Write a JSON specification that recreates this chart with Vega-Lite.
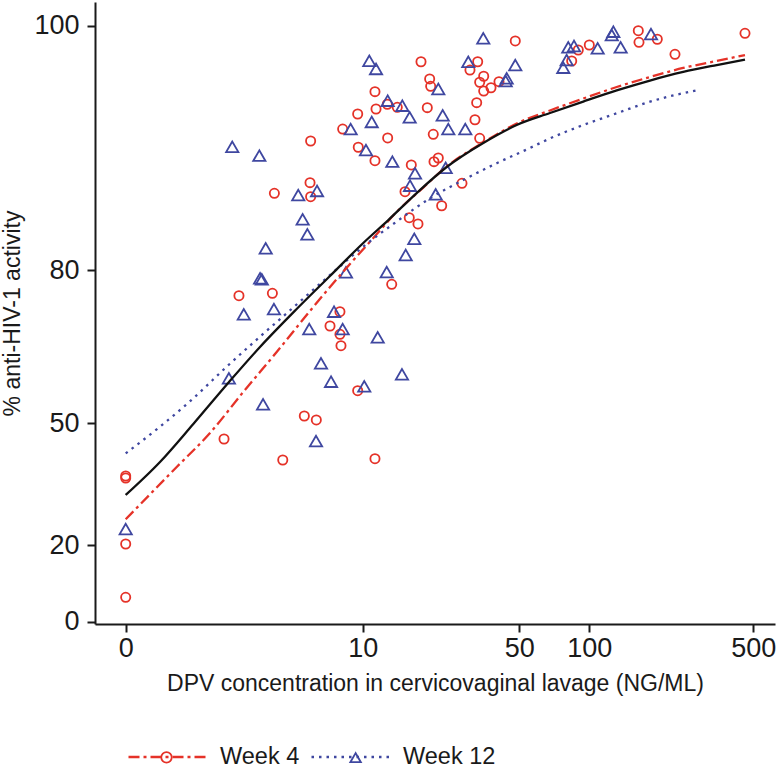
{
  "$schema": "https://vega.github.io/schema/vega-lite/v6.json",
  "width": 680,
  "height": 622,
  "autosize": {"type": "none"},
  "padding": {"left": 95, "top": 2, "right": 5, "bottom": 144},
  "background": "white",
  "config": {
    "view": {"stroke": null},
    "font": "Liberation Sans",
    "axis": {
      "grid": false,
      "domainColor": "#1a1a1a",
      "domainWidth": 2,
      "tickColor": "#1a1a1a",
      "tickWidth": 2,
      "tickSize": 8,
      "labelColor": "#1a1a1a",
      "titleColor": "#1a1a1a",
      "labelFont": "Liberation Sans",
      "titleFont": "Liberation Sans",
      "labelFontSize": 27,
      "titleFontSize": 23,
      "titleFontWeight": "normal",
      "labelFlush": false,
      "labelOverlap": false
    }
  },
  "datasets": {
    "points": [
      {"conc": 5.58, "activity": 90.56, "week": "Week 4"},
      {"conc": 5.54, "activity": 87.15, "week": "Week 4"},
      {"conc": 5.58, "activity": 86.0, "week": "Week 4"},
      {"conc": 3.59, "activity": 86.28, "week": "Week 4"},
      {"conc": 2.22, "activity": 74.97, "week": "Week 4"},
      {"conc": 3.5, "activity": 75.44, "week": "Week 4"},
      {"conc": 7.79, "activity": 71.84, "week": "Week 4"},
      {"conc": 6.97, "activity": 69.04, "week": "Week 4"},
      {"conc": 5.18, "activity": 51.43, "week": "Week 4"},
      {"conc": 5.96, "activity": 50.65, "week": "Week 4"},
      {"conc": 1.77, "activity": 46.13, "week": "Week 4"},
      {"conc": 3.99, "activity": 40.95, "week": "Week 4"},
      {"conc": 0, "activity": 37.01, "week": "Week 4"},
      {"conc": 0, "activity": 36.52, "week": "Week 4"},
      {"conc": 0, "activity": 20.25, "week": "Week 4"},
      {"conc": 0, "activity": 6.36, "week": "Week 4"},
      {"conc": 7.79, "activity": 67.42, "week": "Week 4"},
      {"conc": 7.88, "activity": 65.19, "week": "Week 4"},
      {"conc": 9.47, "activity": 56.38, "week": "Week 4"},
      {"conc": 11.41, "activity": 41.27, "week": "Week 4"},
      {"conc": 48.06, "activity": 98.75, "week": "Week 4"},
      {"conc": 18.5, "activity": 97.05, "week": "Week 4"},
      {"conc": 32.97, "activity": 97.05, "week": "Week 4"},
      {"conc": 30.5, "activity": 96.37, "week": "Week 4"},
      {"conc": 20.23, "activity": 95.64, "week": "Week 4"},
      {"conc": 20.44, "activity": 95.04, "week": "Week 4"},
      {"conc": 35.03, "activity": 95.86, "week": "Week 4"},
      {"conc": 33.64, "activity": 95.37, "week": "Week 4"},
      {"conc": 37.69, "activity": 94.92, "week": "Week 4"},
      {"conc": 35.03, "activity": 94.65, "week": "Week 4"},
      {"conc": 40.84, "activity": 95.42, "week": "Week 4"},
      {"conc": 11.41, "activity": 94.6, "week": "Week 4"},
      {"conc": 32.64, "activity": 93.7, "week": "Week 4"},
      {"conc": 13.01, "activity": 93.57, "week": "Week 4"},
      {"conc": 14.45, "activity": 93.32, "week": "Week 4"},
      {"conc": 11.54, "activity": 93.18, "week": "Week 4"},
      {"conc": 19.74, "activity": 93.29, "week": "Week 4"},
      {"conc": 9.47, "activity": 92.77, "week": "Week 4"},
      {"conc": 32.08, "activity": 92.3, "week": "Week 4"},
      {"conc": 8.03, "activity": 91.54, "week": "Week 4"},
      {"conc": 20.99, "activity": 91.11, "week": "Week 4"},
      {"conc": 33.64, "activity": 90.78, "week": "Week 4"},
      {"conc": 13.06, "activity": 90.81, "week": "Week 4"},
      {"conc": 9.53, "activity": 90.05, "week": "Week 4"},
      {"conc": 11.41, "activity": 88.95, "week": "Week 4"},
      {"conc": 21.15, "activity": 88.87, "week": "Week 4"},
      {"conc": 22.1, "activity": 89.17, "week": "Week 4"},
      {"conc": 16.73, "activity": 88.6, "week": "Week 4"},
      {"conc": 28.13, "activity": 87.1, "week": "Week 4"},
      {"conc": 15.67, "activity": 86.41, "week": "Week 4"},
      {"conc": 22.88, "activity": 85.26, "week": "Week 4"},
      {"conc": 16.38, "activity": 84.28, "week": "Week 4"},
      {"conc": 17.93, "activity": 83.77, "week": "Week 4"},
      {"conc": 13.63, "activity": 77.2, "week": "Week 4"},
      {"conc": 162.1, "activity": 99.59, "week": "Week 4"},
      {"conc": 163.2, "activity": 98.64, "week": "Week 4"},
      {"conc": 195.3, "activity": 98.89, "week": "Week 4"},
      {"conc": 460.9, "activity": 99.38, "week": "Week 4"},
      {"conc": 232.3, "activity": 97.66, "week": "Week 4"},
      {"conc": 89.78, "activity": 98.01, "week": "Week 4"},
      {"conc": 100.1, "activity": 98.42, "week": "Week 4"},
      {"conc": 84.13, "activity": 97.11, "week": "Week 4"},
      {"conc": 2.01, "activity": 90.09, "week": "Week 12"},
      {"conc": 2.95, "activity": 89.36, "week": "Week 12"},
      {"conc": 6.01, "activity": 86.47, "week": "Week 12"},
      {"conc": 4.82, "activity": 86.14, "week": "Week 12"},
      {"conc": 5.08, "activity": 84.15, "week": "Week 12"},
      {"conc": 5.37, "activity": 82.92, "week": "Week 12"},
      {"conc": 3.21, "activity": 81.78, "week": "Week 12"},
      {"conc": 2.98, "activity": 78.37, "week": "Week 12"},
      {"conc": 3.05, "activity": 78.18, "week": "Week 12"},
      {"conc": 2.38, "activity": 71.33, "week": "Week 12"},
      {"conc": 3.57, "activity": 72.37, "week": "Week 12"},
      {"conc": 7.29, "activity": 71.84, "week": "Week 12"},
      {"conc": 5.49, "activity": 68.45, "week": "Week 12"},
      {"conc": 6.29, "activity": 61.74, "week": "Week 12"},
      {"conc": 7.05, "activity": 58.14, "week": "Week 12"},
      {"conc": 1.91, "activity": 58.81, "week": "Week 12"},
      {"conc": 3.1, "activity": 53.72, "week": "Week 12"},
      {"conc": 5.94, "activity": 45.64, "week": "Week 12"},
      {"conc": 0, "activity": 23.94, "week": "Week 12"},
      {"conc": 8.03, "activity": 68.45, "week": "Week 12"},
      {"conc": 11.75, "activity": 66.83, "week": "Week 12"},
      {"conc": 15.18, "activity": 59.59, "week": "Week 12"},
      {"conc": 10.17, "activity": 57.24, "week": "Week 12"},
      {"conc": 34.88, "activity": 98.97, "week": "Week 12"},
      {"conc": 10.74, "activity": 97.13, "week": "Week 12"},
      {"conc": 11.54, "activity": 96.46, "week": "Week 12"},
      {"conc": 29.99, "activity": 97.05, "week": "Week 12"},
      {"conc": 48.06, "activity": 96.78, "week": "Week 12"},
      {"conc": 22.1, "activity": 94.82, "week": "Week 12"},
      {"conc": 44.11, "activity": 95.69, "week": "Week 12"},
      {"conc": 43.67, "activity": 95.47, "week": "Week 12"},
      {"conc": 13.06, "activity": 93.86, "week": "Week 12"},
      {"conc": 15.23, "activity": 93.45, "week": "Week 12"},
      {"conc": 16.45, "activity": 92.5, "week": "Week 12"},
      {"conc": 23.12, "activity": 92.66, "week": "Week 12"},
      {"conc": 11.02, "activity": 92.12, "week": "Week 12"},
      {"conc": 8.77, "activity": 91.54, "week": "Week 12"},
      {"conc": 24.48, "activity": 91.54, "week": "Week 12"},
      {"conc": 29.09, "activity": 91.54, "week": "Week 12"},
      {"conc": 10.36, "activity": 89.82, "week": "Week 12"},
      {"conc": 13.72, "activity": 88.87, "week": "Week 12"},
      {"conc": 23.84, "activity": 88.37, "week": "Week 12"},
      {"conc": 17.39, "activity": 87.92, "week": "Week 12"},
      {"conc": 16.51, "activity": 86.9, "week": "Week 12"},
      {"conc": 21.52, "activity": 86.2, "week": "Week 12"},
      {"conc": 17.26, "activity": 82.56, "week": "Week 12"},
      {"conc": 15.78, "activity": 81.23, "week": "Week 12"},
      {"conc": 12.93, "activity": 79.61, "week": "Week 12"},
      {"conc": 8.33, "activity": 79.55, "week": "Week 12"},
      {"conc": 126.8, "activity": 99.51, "week": "Week 12"},
      {"conc": 124.9, "activity": 99.24, "week": "Week 12"},
      {"conc": 183.6, "activity": 99.32, "week": "Week 12"},
      {"conc": 81.33, "activity": 98.23, "week": "Week 12"},
      {"conc": 86.05, "activity": 98.34, "week": "Week 12"},
      {"conc": 108.7, "activity": 98.15, "week": "Week 12"},
      {"conc": 136.3, "activity": 98.23, "week": "Week 12"},
      {"conc": 80.06, "activity": 97.19, "week": "Week 12"},
      {"conc": 77.42, "activity": 96.56, "week": "Week 12"}
    ],
    "fits": [
      {"conc": 0, "activity": 26.34, "week": "Week 4"},
      {"conc": 0.709, "activity": 39.23, "week": "Week 4"},
      {"conc": 1.403, "activity": 47.61, "week": "Week 4"},
      {"conc": 2.364, "activity": 56.13, "week": "Week 4"},
      {"conc": 3.697, "activity": 63.95, "week": "Week 4"},
      {"conc": 5.538, "activity": 71.98, "week": "Week 4"},
      {"conc": 6.968, "activity": 76.67, "week": "Week 4"},
      {"conc": 8.705, "activity": 80.49, "week": "Week 4"},
      {"conc": 11.21, "activity": 82.62, "week": "Week 4"},
      {"conc": 14.36, "activity": 84.75, "week": "Week 4"},
      {"conc": 18.94, "activity": 86.75, "week": "Week 4"},
      {"conc": 24.08, "activity": 88.47, "week": "Week 4"},
      {"conc": 34.88, "activity": 90.44, "week": "Week 4"},
      {"conc": 48.74, "activity": 91.99, "week": "Week 4"},
      {"conc": 67.87, "activity": 93.06, "week": "Week 4"},
      {"conc": 94.34, "activity": 94.04, "week": "Week 4"},
      {"conc": 131.1, "activity": 94.98, "week": "Week 4"},
      {"conc": 181.8, "activity": 95.8, "week": "Week 4"},
      {"conc": 251.9, "activity": 96.54, "week": "Week 4"},
      {"conc": 349.4, "activity": 97.11, "week": "Week 4"},
      {"conc": 460.9, "activity": 97.6, "week": "Week 4"},
      {"conc": 0, "activity": 42.6, "week": "Week 12"},
      {"conc": 0.437, "activity": 49.16, "week": "Week 12"},
      {"conc": 1.027, "activity": 54.89, "week": "Week 12"},
      {"conc": 1.846, "activity": 61.08, "week": "Week 12"},
      {"conc": 2.976, "activity": 66.95, "week": "Week 12"},
      {"conc": 4.189, "activity": 71.53, "week": "Week 12"},
      {"conc": 6.968, "activity": 79.02, "week": "Week 12"},
      {"conc": 10.06, "activity": 81.91, "week": "Week 12"},
      {"conc": 14.36, "activity": 83.97, "week": "Week 12"},
      {"conc": 20.3, "activity": 85.87, "week": "Week 12"},
      {"conc": 28.51, "activity": 87.37, "week": "Week 12"},
      {"conc": 39.91, "activity": 88.74, "week": "Week 12"},
      {"conc": 55.64, "activity": 89.99, "week": "Week 12"},
      {"conc": 67.87, "activity": 90.77, "week": "Week 12"},
      {"conc": 94.34, "activity": 91.87, "week": "Week 12"},
      {"conc": 131.1, "activity": 92.83, "week": "Week 12"},
      {"conc": 181.8, "activity": 93.78, "week": "Week 12"},
      {"conc": 291.8, "activity": 94.74, "week": "Week 12"}
    ],
    "overall": [
      {"conc": 0, "activity": 32.33},
      {"conc": 0.437, "activity": 40.46},
      {"conc": 1.027, "activity": 49.83},
      {"conc": 1.913, "activity": 58.08},
      {"conc": 2.976, "activity": 64.93},
      {"conc": 4.73, "activity": 72.37},
      {"conc": 6.968, "activity": 78.83},
      {"conc": 10.06, "activity": 82.21},
      {"conc": 13.15, "activity": 84.09},
      {"conc": 17.69, "activity": 86.3},
      {"conc": 24.08, "activity": 88.43},
      {"conc": 34.88, "activity": 90.4},
      {"conc": 48.74, "activity": 91.87},
      {"conc": 67.87, "activity": 92.85},
      {"conc": 94.34, "activity": 93.79},
      {"conc": 131.1, "activity": 94.7},
      {"conc": 181.8, "activity": 95.51},
      {"conc": 251.9, "activity": 96.21},
      {"conc": 349.4, "activity": 96.78},
      {"conc": 460.9, "activity": 97.23}
    ]
  },
  "encoding": {
    "x": {
      "field": "conc",
      "type": "quantitative",
      "title": "DPV concentration in cervicovaginal lavage (NG/ML)",
      "scale": {"type": "symlog", "constant": 1.1, "domain": [-0.384, 618], "nice": false},
      "axis": {"values": [0, 10, 50, 100, 500], "labelPadding": 3, "titlePadding": 11}
    },
    "y": {
      "field": "activity",
      "type": "quantitative",
      "title": "% anti-HIV-1 activity",
      "scale": {"domain": [-0.6, 0, 20, 50, 80, 100, 101.94], "range": [622, 619.7, 543, 421.3, 268, 23.7, 0], "zero": false, "nice": false},
      "axis": {"values": [0, 20, 50, 80, 100], "labelPadding": 8, "titlePadding": 9}
    }
  },
  "layer": [
    {
      "data": {"name": "points"},
      "transform": [{"filter": "datum.week === 'Week 4'"}],
      "mark": {"type": "point", "filled": false, "strokeWidth": 1.8, "opacity": 1, "size": 85},
      "encoding": {
        "color": {
          "field": "week",
          "type": "nominal",
          "scale": {"domain": ["Week 4", "Week 12"], "range": ["#e53228", "#3f47a0"]},
          "legend": {
            "orient": "none", "legendX": 65, "legendY": 748.5, "direction": "horizontal", "title": null, "padding": 0,
            "symbolSize": 110, "symbolStrokeWidth": 1.8, "labelFont": "Liberation Sans", "labelFontSize": 1,
            "labelOpacity": 0, "labelOffset": 2, "columnPadding": 167.1
          }
        },
        "shape": {
          "field": "week",
          "type": "nominal",
          "scale": {"domain": ["Week 4", "Week 12"], "range": ["circle", "triangle-up"]},
          "legend": {
            "orient": "none", "legendX": 65, "legendY": 748.5, "direction": "horizontal", "title": null, "padding": 0,
            "symbolSize": 110, "symbolStrokeWidth": 1.8, "labelFont": "Liberation Sans", "labelFontSize": 1,
            "labelOpacity": 0, "labelOffset": 2, "columnPadding": 167.1
          }
        }
      }
    },
    {
      "data": {"name": "points"},
      "transform": [{"filter": "datum.week === 'Week 12'"}],
      "mark": {"type": "point", "filled": false, "strokeWidth": 1.8, "opacity": 1, "size": 150},
      "encoding": {
        "color": {
          "field": "week",
          "type": "nominal",
          "legend": {
            "orient": "none", "legendX": 65, "legendY": 748.5, "direction": "horizontal", "title": null, "padding": 0,
            "symbolSize": 110, "symbolStrokeWidth": 1.8, "labelFont": "Liberation Sans", "labelFontSize": 1,
            "labelOpacity": 0, "labelOffset": 2, "columnPadding": 167.1
          }
        },
        "shape": {
          "field": "week",
          "type": "nominal",
          "scale": {"domain": ["Week 4", "Week 12"]},
          "legend": {
            "orient": "none", "legendX": 65, "legendY": 748.5, "direction": "horizontal", "title": null, "padding": 0,
            "symbolSize": 110, "symbolStrokeWidth": 1.8, "labelFont": "Liberation Sans", "labelFontSize": 1,
            "labelOpacity": 0, "labelOffset": 2, "columnPadding": 167.1
          }
        }
      }
    },
    {
      "data": {"name": "fits"},
      "mark": {"type": "line", "strokeWidth": 2.3, "interpolate": "monotone"},
      "encoding": {
        "stroke": {
          "field": "week",
          "type": "nominal",
          "sort": "descending",
          "scale": {"range": ["#e53228", "#3f47a0"]},
          "legend": {
            "orient": "none",
            "legendX": 32,
            "legendY": 714.5,
            "direction": "horizontal",
            "title": null,
            "padding": 0,
            "symbolType": "stroke",
            "symbolSize": 6084,
            "symbolStrokeWidth": 2.3,
            "labelFont": "Liberation Sans",
            "labelFontSize": 23.5,
            "labelColor": "#1a1a1a",
            "labelOffset": 12,
            "columnPadding": 6
          }
        },
        "strokeDash": {
          "field": "week",
          "type": "nominal",
          "sort": "descending",
          "scale": {"range": [[11, 4, 3, 4], [2.5, 5]]},
          "legend": {
            "orient": "none",
            "legendX": 32,
            "legendY": 714.5,
            "direction": "horizontal",
            "title": null,
            "padding": 0,
            "symbolType": "stroke",
            "symbolSize": 6084,
            "symbolStrokeWidth": 2.3,
            "labelFont": "Liberation Sans",
            "labelFontSize": 23.5,
            "labelColor": "#1a1a1a",
            "labelOffset": 12,
            "columnPadding": 6
          }
        }
      }
    },
    {
      "data": {"name": "overall"},
      "mark": {"type": "line", "color": "#111111", "strokeWidth": 2.3, "interpolate": "monotone"},
      "encoding": {}
    }
  ]
}
